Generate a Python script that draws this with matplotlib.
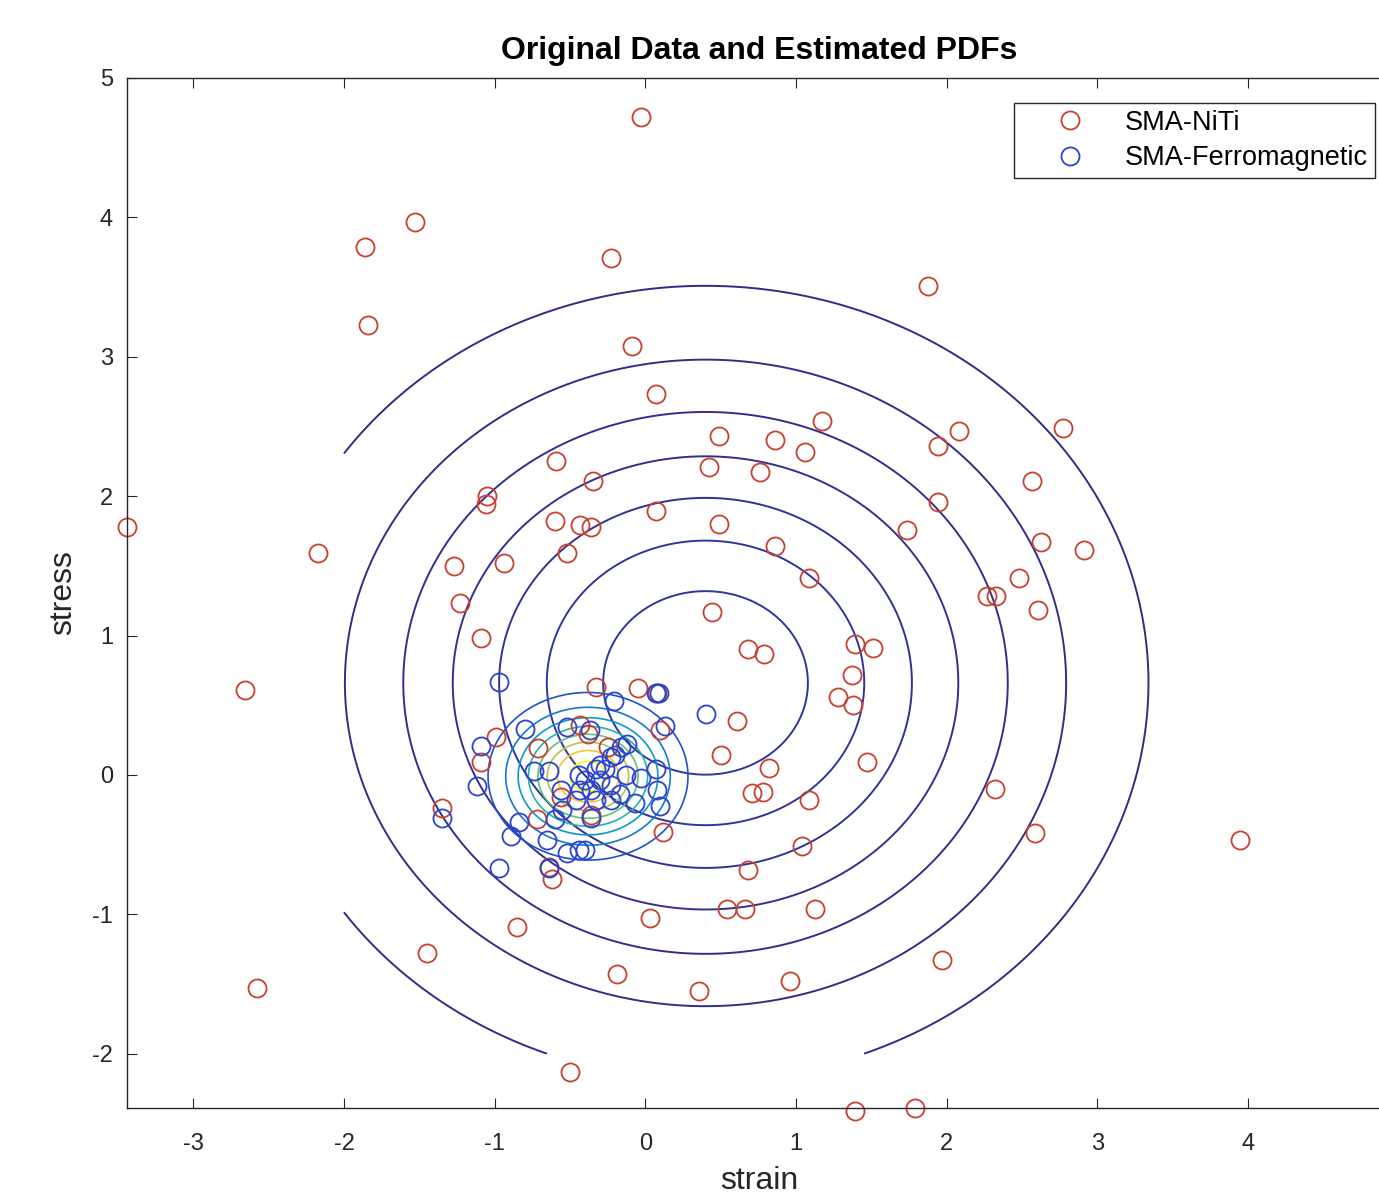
import numpy as np
import matplotlib
matplotlib.use("Agg")
import matplotlib.pyplot as plt
from matplotlib.colors import LinearSegmentedColormap

plt.rcParams['font.family'] = ['Liberation Sans', 'DejaVu Sans']
plt.rcParams['axes.unicode_minus'] = False

# ── data ──
niti_strain = [-0.03, -1.53, -1.86, -0.23, -1.84, 1.88, -0.09, 0.07, 1.17, 2.77,
               2.08, 0.49, 0.86, 1.06, 1.94, -0.59, 0.42, 0.76, -0.35, 2.57,
               -1.05, -1.06, 0.07, 1.94, -0.60, 0.49, -0.43, -0.36, 1.74, -3.44,
               -0.52, -2.17, 2.91, 0.86, 2.63, -1.27, -0.94, 1.09, 2.48, -1.23,
               2.27, 2.33, 0.44, 2.61, -1.09, 1.39, 1.51, 0.68, 0.79, 1.37,
               -2.66, -0.05, -0.33, 1.28, 1.38, 0.61, 0.08, 0.50, 1.47, 0.82,
               -0.99, -1.09, 0.71, 0.78, 1.09, 2.32, -1.35, 0.12, 2.59, 3.95,
               1.04, -0.64, -0.62, 0.68, 0.54, 0.66, 1.13, 0.03, -0.85, -1.45,
               1.97, -0.19, 0.96, 0.36, -2.58, -0.50, 1.39, 1.79, -0.71, -0.43,
               -0.38, -0.56, -0.72, -0.36, 0.10, -0.25]
niti_stress = [4.72, 3.97, 3.79, 3.71, 3.23, 3.51, 3.08, 2.73, 2.54, 2.49,
               2.47, 2.43, 2.40, 2.32, 2.36, 2.25, 2.21, 2.17, 2.11, 2.11,
               2.00, 1.94, 1.89, 1.96, 1.82, 1.80, 1.79, 1.78, 1.76, 1.78,
               1.59, 1.59, 1.61, 1.64, 1.67, 1.50, 1.52, 1.41, 1.41, 1.23,
               1.28, 1.28, 1.17, 1.18, 0.98, 0.94, 0.91, 0.90, 0.87, 0.72,
               0.61, 0.62, 0.63, 0.56, 0.50, 0.39, 0.59, 0.14, 0.09, 0.05,
               0.27, 0.09, -0.13, -0.12, -0.18, -0.10, -0.24, -0.41, -0.42, -0.47,
               -0.51, -0.66, -0.75, -0.68, -0.96, -0.96, -0.96, -1.03, -1.09, -1.28,
               -1.33, -1.43, -1.48, -1.55, -1.53, -2.13, -2.41, -2.39, 0.19, 0.36,
               0.29, -0.16, -0.32, -0.29, 0.32, 0.20]

ferro_strain = [-0.97, 0.40, -0.21, 0.13, 0.07, 0.09, -0.80, -1.09, -1.12, -1.35,
                -0.97, -0.89, -0.84, -0.65, -0.52, -0.44, -0.40, -0.64, -0.74, -0.64,
                -0.52, -0.37, -0.16, -0.12, -0.20, -0.44, -0.40, -0.33, -0.30, -0.36,
                -0.23, -0.27, -0.43, -0.46, -0.33, -0.23, -0.17, -0.13, -0.03, 0.07,
                0.08, 0.10, -0.07, -0.56, -0.55, -0.60, -0.36, -0.30, -0.23]
ferro_stress = [0.67, 0.44, 0.53, 0.35, 0.59, 0.59, 0.33, 0.21, -0.08, -0.31,
                -0.67, -0.44, -0.34, -0.47, -0.56, -0.54, -0.54, -0.67, 0.03, 0.03,
                0.34, 0.32, 0.20, 0.22, 0.14, 0.00, -0.04, 0.04, -0.04, -0.11,
                -0.07, 0.04, -0.11, -0.18, -0.18, -0.18, -0.14, 0.00, -0.02, 0.04,
                -0.11, -0.22, -0.20, -0.11, -0.25, -0.32, -0.31, 0.07, 0.13]

# estimated gaussian pdfs (mean, std) and contour levels
niti_mean = [0.40, 0.66]
niti_std = [1.45, 1.405]
niti_levels = [0.01, 0.02, 0.03, 0.04, 0.05, 0.06, 0.07]
ferro_mean = [-0.38, -0.01]
ferro_std = [0.32, 0.29]
ferro_levels = [0.2, 0.4, 0.6, 0.8, 1.0, 1.2, 1.4, 1.6]

# parula-like colormap
parula = LinearSegmentedColormap.from_list("parula", [
    (0.2081, 0.1663, 0.5292), (0.0928, 0.3552, 0.8672), (0.0689, 0.5257, 0.8300),
    (0.0260, 0.6600, 0.7524), (0.2278, 0.7535, 0.5742), (0.6250, 0.7663, 0.3175),
    (0.9475, 0.7590, 0.2164), (0.9763, 0.9831, 0.0538)])


def gauss_pdf(X, Y, mu, sd):
    return np.exp(-0.5 * (((X - mu[0]) / sd[0]) ** 2 + ((Y - mu[1]) / sd[1]) ** 2)) \
        / (2 * np.pi * sd[0] * sd[1])


fig = plt.figure(figsize=(13.79, 11.99), dpi=100)
ax = fig.add_axes([127 / 1379, 91 / 1199, 1264 / 1379, 1030 / 1199])

xs = np.linspace(-2, 4, 400)
X, Y = np.meshgrid(xs, xs)
vmin, vmax = niti_levels[0], ferro_levels[-1]
ax.contour(X, Y, gauss_pdf(X, Y, niti_mean, niti_std), levels=niti_levels,
           cmap=parula, vmin=vmin, vmax=vmax, linewidths=1.4)
ax.contour(X, Y, gauss_pdf(X, Y, ferro_mean, ferro_std), levels=ferro_levels,
           cmap=parula, vmin=vmin, vmax=vmax, linewidths=1.2)

ax.plot(niti_strain, niti_stress, 'o', mfc='none', mec='#c8402f', ms=13, mew=1.3,
        label='SMA-NiTi', clip_on=False)
ax.plot(ferro_strain, ferro_stress, 'o', mfc='none', mec='#2b44cc', ms=13, mew=1.3,
        label='SMA-Ferromagnetic', clip_on=False)

ax.set_xlim(-3.44, 4.95)
ax.set_ylim(-2.39, 5)
ax.set_xticks(range(-3, 5))
ax.set_yticks(range(-2, 6))
ax.tick_params(direction='in', top=True, right=True, length=7, labelsize=17,
               colors='#262626')
ax.tick_params(axis='x', pad=18)
ax.tick_params(axis='y', pad=10)
for s in ax.spines.values():
    s.set_color('#262626')
    s.set_linewidth(1.0)

ax.set_xlabel('strain', fontsize=23, color='#262626', labelpad=8)
ax.set_ylabel('stress', fontsize=23, color='#262626', labelpad=10)
ax.set_title('Original Data and Estimated PDFs', fontsize=23, fontweight='bold', pad=14)

leg = ax.legend(loc='upper right', bbox_to_anchor=(1375 / 1379, 1 - 103 / 1199),
                bbox_transform=fig.transFigure, borderaxespad=0, fontsize=19.5,
                fancybox=False, edgecolor='#262626', framealpha=1, handletextpad=0.25,
                handlelength=3.6, borderpad=0.25, labelspacing=0.35)
leg.get_frame().set_linewidth(1.0)

fig.savefig('out.png', dpi=100)
